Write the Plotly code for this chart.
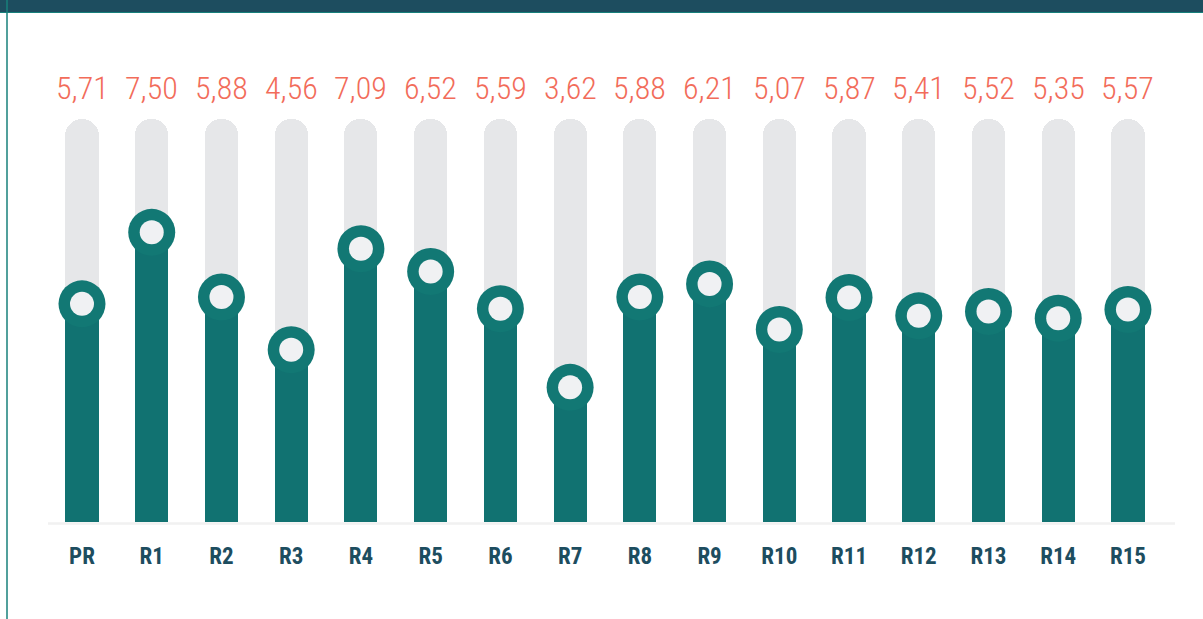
import plotly.graph_objects as go

categories = ["PR", "R1", "R2", "R3", "R4", "R5", "R6", "R7",
              "R8", "R9", "R10", "R11", "R12", "R13", "R14", "R15"]
values = [5.71, 7.50, 5.88, 4.56, 7.09, 6.52, 5.59, 3.62,
          5.88, 6.21, 5.07, 5.87, 5.41, 5.52, 5.35, 5.57]
value_labels = [f"{v:.2f}".replace(".", ",") for v in values]

TRACK_MAX = 10.33   # top of the grey track
BASE = 0.25         # value at the baseline

W, H = 1203, 619
PLOT_BOTTOM = 522           # pixel row of baseline
PX_PER_UNIT = 39.95
X0_PX, STEP_PX = 82, 69.73

TEAL = "#117271"
RING = "#127874"
INNER = "#f0f1f3"
TRACK = "#e6e7e9"
CORAL = "#f26c5a"
NAVY = "#1d4d5f"

VAL_FONT = ("Noto Sans ExtraCondensed Light, Noto Sans Condensed Light, "
            "Roboto Condensed Light, Roboto Condensed, DejaVu Sans Condensed, sans-serif")
LAB_FONT = ("Noto Sans ExtraCondensed, Noto Sans Condensed, Roboto Condensed, "
            "DejaVu Sans Condensed, sans-serif")

n = len(categories)
fig = go.Figure()

# grey tracks
fig.add_trace(go.Bar(
    x=categories, y=[TRACK_MAX - BASE] * n, base=BASE,
    marker=dict(color=TRACK, cornerradius=17, line=dict(width=0)),
    width=0.475, hoverinfo="skip", showlegend=False))
# teal value bars
fig.add_trace(go.Bar(
    x=categories, y=[v - BASE for v in values], base=BASE,
    marker=dict(color=TEAL, line=dict(width=0)),
    width=0.475, hoverinfo="skip", showlegend=False))
# rings
fig.add_trace(go.Scatter(
    x=categories, y=values, mode="markers",
    marker=dict(size=47, color=RING, line=dict(width=0)),
    hoverinfo="skip", showlegend=False))
# inner dots
fig.add_trace(go.Scatter(
    x=categories, y=values, mode="markers",
    marker=dict(size=24, color=INNER, line=dict(width=0)),
    hoverinfo="skip", showlegend=False))

# value labels
for c, t in zip(categories, value_labels):
    fig.add_annotation(x=c, y=1 - 88 / PLOT_BOTTOM, xref="x", yref="paper",
                       text=t, showarrow=False, yanchor="middle",
                       font=dict(family=VAL_FONT, size=32, color=CORAL, weight=300))

shapes = [
    # baseline shadow
    dict(type="line", xref="paper", yref="paper", x0=48 / W, x1=1175 / W,
         y0=-1.5 / PLOT_BOTTOM, y1=-1.5 / PLOT_BOTTOM,
         line=dict(color="#f1f1f1", width=2.5), layer="below"),
    # top band
    dict(type="rect", xref="paper", yref="paper", x0=0, x1=1,
         y0=1 - 12 / PLOT_BOTTOM, y1=1.01, fillcolor=NAVY,
         line=dict(width=0), layer="above"),
    dict(type="line", xref="paper", yref="paper", x0=0, x1=1,
         y0=1 - 12.5 / PLOT_BOTTOM, y1=1 - 12.5 / PLOT_BOTTOM,
         line=dict(color="#17807b", width=1.2), layer="above"),
    # left border
    dict(type="line", xref="paper", yref="paper", x0=7 / W, x1=7 / W,
         y0=1, y1=1 - H / PLOT_BOTTOM,
         line=dict(color="#17807b", width=1.5), layer="above"),
]

fig.update_layout(
    width=W, height=H,
    margin=dict(l=0, r=0, t=0, b=H - PLOT_BOTTOM, pad=0),
    paper_bgcolor="white", plot_bgcolor="white",
    barmode="overlay", bargap=0,
    shapes=shapes,
    xaxis=dict(type="category", range=[-X0_PX / STEP_PX, (W - X0_PX) / STEP_PX],
               showgrid=False, zeroline=False, showline=False, ticks="",
               tickfont=dict(family=LAB_FONT, size=23, color=NAVY, weight="bold"),
               ticklabelstandoff=18, fixedrange=True),
    yaxis=dict(range=[BASE, BASE + PLOT_BOTTOM / PX_PER_UNIT],
               showgrid=False, zeroline=False, showline=False,
               showticklabels=False, ticks="", fixedrange=True),
)

fig.write_html("out.html", config={"displayModeBar": False},
               post_script="document.body.style.margin='0';document.body.style.overflow='hidden';")
